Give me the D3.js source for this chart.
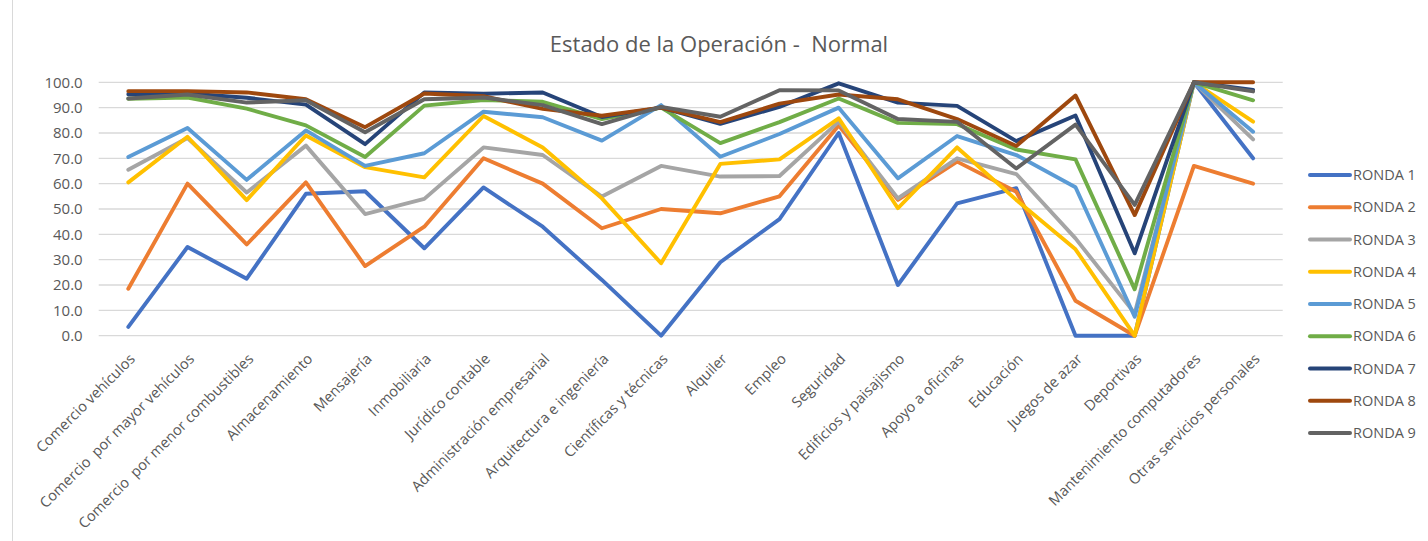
<!DOCTYPE html>
<html>
<head>
<meta charset="utf-8">
<script src="https://cdn.jsdelivr.net/npm/d3@7"></script>
<style>
  body { margin: 0; background: #fff; }
  text { font-family: "Open Sans", sans-serif; fill: #595959; white-space: pre; }
</style>
</head>
<body>
<script>
//Datos
var categorias = ["Comercio vehículos", "Comercio  por mayor vehículos", "Comercio  por menor combustibles",
    "Almacenamiento", "Mensajería", "Inmobiliaria", "Jurídico contable", "Administración empresarial",
    "Arquitectura e ingeniería", "Científicas y técnicas", "Alquiler", "Empleo", "Seguridad",
    "Edificios y paisajismo", "Apoyo a oficinas", "Educación", "Juegos de azar", "Deportivas",
    "Mantenimiento computadores", "Otras servicios personales"]

var rondas = ["RONDA 1", "RONDA 2", "RONDA 3", "RONDA 4", "RONDA 5", "RONDA 6", "RONDA 7", "RONDA 8", "RONDA 9"]

var ronda1 = [3.5, 35, 22.5, 56, 57, 34.5, 58.5, 43, 22, 0, 29, 46, 80, 20, 52.2, 58.2, 0, 0, 100, 70]
var ronda2 = [18.5, 60, 36, 60.5, 27.5, 43, 70, 60, 42.4, 50, 48.3, 55, 83, 53.6, 68.7, 56.8, 13.8, 0, 67, 60]
var ronda3 = [65.5, 78, 56.5, 75, 48, 54, 74.3, 71.3, 54.9, 67, 62.8, 63, 84.5, 54.2, 70, 63.8, 38.4, 8.8, 100, 77.5]
var ronda4 = [60.5, 78.5, 53.5, 79, 66.5, 62.5, 86.7, 74.3, 54.2, 28.6, 67.8, 69.6, 85.8, 50.3, 74.3, 53.6, 34.1, 0, 100, 84.5]
var ronda5 = [70.5, 82, 61.5, 81, 67, 72, 88.4, 86.2, 77, 91, 70.6, 79.6, 90, 62.1, 78.8, 71.3, 58.6, 7.5, 100, 80.5]
var ronda6 = [93.5, 94, 89.6, 83, 70.5, 90.8, 93, 92.3, 85.5, 90, 76, 84.3, 93.6, 84, 83.5, 73.5, 69.6, 18.3, 100, 92.9]
var ronda7 = [95.3, 95.6, 93.9, 91.2, 75.6, 96, 95.5, 96, 86.3, 90, 83.6, 90.3, 99.6, 92, 90.7, 76.8, 86.9, 32.5, 100, 97]
var ronda8 = [96.5, 96.5, 96, 93.3, 82.3, 95.6, 94.5, 89.5, 86.8, 90, 84.3, 91.6, 95.2, 93.3, 85.5, 74.9, 94.8, 47.6, 100, 100]
var ronda9 = [93.6, 95.2, 92, 92.9, 80.3, 93.3, 94, 91, 83.5, 90.3, 86.4, 96.9, 96.8, 85.5, 84.4, 66, 83.3, 51.6, 100, 96.4]

var ticksY = [0, 10, 20, 30, 40, 50, 60, 70, 80, 90, 100]

var series = [ronda1, ronda2, ronda3, ronda4, ronda5, ronda6, ronda7, ronda8, ronda9]
var colores = ["#4472C4", "#ED7D31", "#A5A5A5", "#FFC000", "#5B9BD5", "#70AD47", "#264478", "#9E480E", "#636363"]

//Área de trabajo
var ancho = 1428, alto = 541
var margin = {top: 82.3, left: 98.7, right: 1282.7, bottom: 335.7}

var svg = d3.select("body")
            .append("svg")
            .attr("width", ancho)
            .attr("height", alto)

//Borde del gráfico
svg.append("line")
   .attr("x1", 12.5).attr("x2", 12.5)
   .attr("y1", 0).attr("y2", alto)
   .attr("stroke", "#d9d9d9")

//Título
svg.append("text")
   .attr("x", 719)
   .attr("y", 52)
   .attr("text-anchor", "middle")
   .style("font-size", "22px")
   .text("Estado de la Operación -  Normal")

//Escalas
var x = d3.scaleBand()
          .domain(categorias)
          .range([margin.left, margin.right])

var y = d3.scaleLinear()
          .domain([0, 100])
          .range([margin.bottom, margin.top])

//Líneas de cuadrícula
svg.append("g")
   .selectAll("line")
   .data(ticksY)
   .enter()
   .append("line")
   .attr("x1", margin.left)
   .attr("x2", margin.right)
   .attr("y1", function(d) { return y(d) })
   .attr("y2", function(d) { return y(d) })
   .attr("stroke", "#d9d9d9")
   .attr("stroke-width", 1.3)

//Eje vertical
var ejeY = svg.append("g")
              .attr("transform", "translate(" + (margin.left - 16) + ",0)")
              .call(d3.axisLeft(y).tickValues(ticksY).tickFormat(d3.format(".1f")).tickSize(0))
ejeY.select(".domain").remove()
ejeY.selectAll("text")
    .attr("x", 0)
    .style("font-size", "15px")
    .style("font-family", "Open Sans")
    .attr("fill", "#595959")

//Etiquetas del eje horizontal
var ejeX = svg.append("g")
              .attr("transform", "translate(0," + margin.bottom + ")")
              .call(d3.axisBottom(x).tickSize(0))
ejeX.select(".domain").remove()
ejeX.selectAll("text")
    .attr("y", 0)
    .attr("dy", "0.35em")
    .style("font-size", "14.6px")
    .style("font-family", "Open Sans")
    .attr("fill", "#595959")
    .style("text-anchor", "end")
    .attr("transform", "translate(4,20.5) rotate(-45)")

//Líneas por ronda
var linea = d3.line()
              .x(function(d, i) { return x(categorias[i]) + x.bandwidth() / 2 })
              .y(function(d) { return y(d) })

svg.append("g")
   .selectAll("path")
   .data(series)
   .enter()
   .append("path")
   .attr("d", linea)
   .attr("fill", "none")
   .attr("stroke", function(d, i) { return colores[i] })
   .attr("stroke-width", 3.9)
   .attr("stroke-linejoin", "round")
   .attr("stroke-linecap", "round")

//Leyenda
var leyenda = svg.append("g")
                 .selectAll("g")
                 .data(rondas)
                 .enter()
                 .append("g")
                 .attr("transform", function(d, i) { return "translate(1310," + (175 + i * 32.25) + ")" })

leyenda.append("line")
       .attr("x1", 0).attr("x2", 40)
       .attr("stroke", function(d, i) { return colores[i] })
       .attr("stroke-width", 4)
       .attr("stroke-linecap", "round")

leyenda.append("text")
       .attr("x", 43)
       .attr("dy", "0.36em")
       .style("font-size", "14.5px")
       .text(function(d) { return d })
</script>
</body>
</html>
